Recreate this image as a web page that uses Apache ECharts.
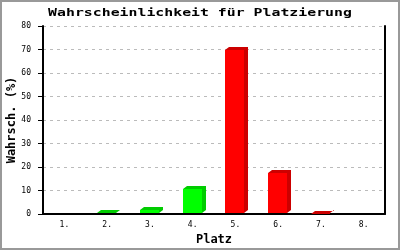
<!DOCTYPE html>
<html><head><meta charset="utf-8">
<script src="https://cdn.jsdelivr.net/npm/echarts@6/dist/echarts.min.js"></script>
<style>html,body{margin:0;padding:0;background:#fff}#c{width:400px;height:250px}</style>
</head><body><div id="c"></div>
<script>
const categories = ['1.', '2.', '3.', '4.', '5.', '6.', '7.', '8.'];
const values = [0, 0.5, 1.6, 10.5, 70, 17.4, 0.2, 0];
const barColors = ['#00ff00', '#00ff00', '#00ff00', '#00ff00', '#ff0000', '#ff0000', '#ff0000', '#ff0000'];
const shadeColors = ['#00cc00', '#00cc00', '#00cc00', '#00cc00', '#cc0000', '#cc0000', '#cc0000', '#cc0000'];
const titleText = 'Wahrscheinlichkeit für Platzierung';
const yName = 'Wahrsch. (%)';
const xName = 'Platz';

const mono = 'DejaVu Sans Mono';
const chart = echarts.init(document.getElementById('c'), null, {renderer: 'canvas'});
chart.setOption({
  animation: false,
  grid: {left: 43, right: 15, top: 26, bottom: 36, containLabel: false, outerBoundsMode: 'none'},
  graphic: [
    {type: 'rect', shape: {x: 1, y: 1, width: 398, height: 248}, style: {fill: 'none', stroke: '#999', lineWidth: 2}, silent: true},
    {type: 'text', x: 200, y: 13, scaleX: 1.06, scaleY: 0.8, silent: true,
     style: {text: titleText, font: 'bold 14px "DejaVu Sans Mono"', fill: '#000', textAlign: 'center', textVerticalAlign: 'middle'}}
  ],
  xAxis: {
    type: 'category', data: categories,
    name: xName, nameLocation: 'middle', nameGap: 20, nameMoveOverlap: false,
    nameTextStyle: {fontFamily: mono, fontWeight: 'bold', fontSize: 12, color: '#000'},
    axisLine: {lineStyle: {color: '#000', width: 2}},
    axisTick: {show: false},
    axisLabel: {fontFamily: mono, fontSize: 8, color: '#000', margin: 7}
  },
  yAxis: [{
    type: 'value', min: 0, max: 80, interval: 10,
    name: yName, nameLocation: 'middle', nameGap: 25, nameMoveOverlap: false,
    nameTextStyle: {fontFamily: mono, fontWeight: 'bold', fontSize: 12, color: '#000'},
    axisLine: {show: true, lineStyle: {color: '#000', width: 2}},
    axisTick: {show: true, length: 5, lineStyle: {color: '#000', width: 1}},
    axisLabel: {fontFamily: mono, fontSize: 8, color: '#000', margin: 12},
    splitLine: {show: true, lineStyle: {color: '#bbb', type: [3, 4], width: 1}}
  }, {
    type: 'value', min: 0, max: 80, interval: 10, position: 'right',
    axisLine: {show: true, lineStyle: {color: '#000', width: 2}},
    axisTick: {show: false}, axisLabel: {show: false}, splitLine: {show: false}
  }],
  series: [{
    type: 'custom',
    data: values.map((v, i) => [i, v]),
    renderItem: function (params, api) {
      const i = api.value(0), v = api.value(1);
      if (!(v > 0)) return null;
      const base = api.coord([i, 0]);
      const top = api.coord([i, v]);
      const c = Math.round(base[0]);
      const x0 = c - 10, x1 = c + 9;
      const yb = Math.round(base[1]) - 1;
      const yt = Math.round(top[1]);
      const dx = 4, dy = 3;
      return {
        type: 'group', children: [
          {type: 'polygon', shape: {points: [[x0, yt], [x0 + dx, yt - dy], [x1 + dx, yt - dy], [x1 + dx, yb - dy], [x1, yb], [x1, yt]]}, style: {fill: shadeColors[i], stroke: null}},
          {type: 'rect', shape: {x: x0, y: yt, width: x1 - x0, height: Math.max(0, yb - yt)}, style: {fill: barColors[i], stroke: null}}
        ]
      };
    }
  }]
});
</script></body></html>
